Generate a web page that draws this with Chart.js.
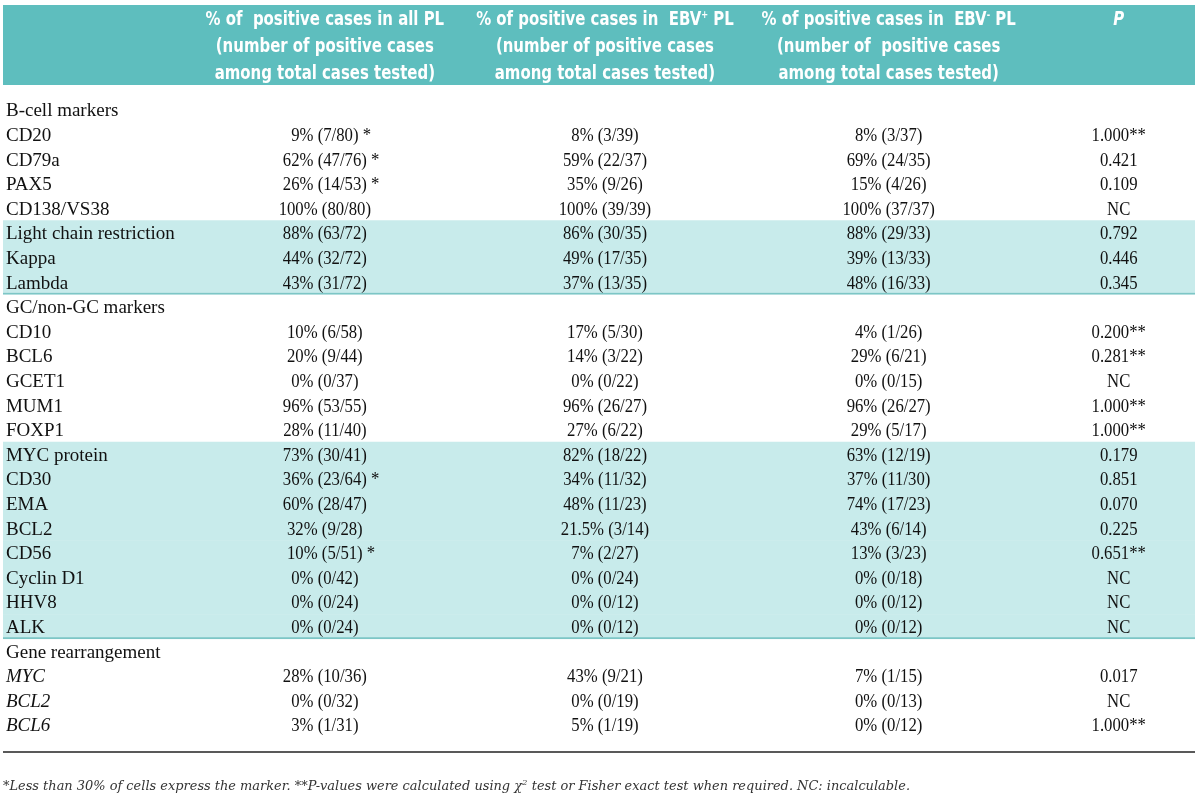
<!DOCTYPE html>
<html>
<head>
<meta charset="utf-8">
<script src="https://cdn.jsdelivr.net/npm/chart.js@4.4.1/dist/chart.umd.min.js"></script>
<style>
  html, body { margin: 0; padding: 0; background: #fff; }
  #wrap { width: 1200px; height: 799px; position: relative; }
</style>
</head>
<body>
<div id="wrap"><canvas id="table-chart"></canvas></div>
<script>
// rows of the table, top to bottom
const rowLabels = ['B-cell markers', 'CD20', 'CD79a', 'PAX5', 'CD138/VS38',
    'Light chain restriction', 'Kappa', 'Lambda',
    'GC/non-GC markers', 'CD10', 'BCL6', 'GCET1', 'MUM1', 'FOXP1',
    'MYC protein', 'CD30', 'EMA', 'BCL2', 'CD56', 'Cyclin D1', 'HHV8', 'ALK',
    'Gene rearrangement', 'MYC', 'BCL2', 'BCL6'];
const sectionRows = [0, 8, 22];
const italicRows = [23, 24, 25];
const shadedGroups = [[5, 7], [14, 21]];

const allPL = ['', '9% (7/80)', '62% (47/76)', '26% (14/53)', '100% (80/80)',
    '88% (63/72)', '44% (32/72)', '43% (31/72)',
    '', '10% (6/58)', '20% (9/44)', '0% (0/37)', '96% (53/55)', '28% (11/40)',
    '73% (30/41)', '36% (23/64)', '60% (28/47)', '32% (9/28)', '10% (5/51)', '0% (0/42)', '0% (0/24)', '0% (0/24)',
    '', '28% (10/36)', '0% (0/32)', '3% (1/31)'];
const lowExpression = [1, 2, 3, 15, 18]; // rows flagged with *
const ebvPos = ['', '8% (3/39)', '59% (22/37)', '35% (9/26)', '100% (39/39)',
    '86% (30/35)', '49% (17/35)', '37% (13/35)',
    '', '17% (5/30)', '14% (3/22)', '0% (0/22)', '96% (26/27)', '27% (6/22)',
    '82% (18/22)', '34% (11/32)', '48% (11/23)', '21.5% (3/14)', '7% (2/27)', '0% (0/24)', '0% (0/12)', '0% (0/12)',
    '', '43% (9/21)', '0% (0/19)', '5% (1/19)'];
const ebvNeg = ['', '8% (3/37)', '69% (24/35)', '15% (4/26)', '100% (37/37)',
    '88% (29/33)', '39% (13/33)', '48% (16/33)',
    '', '4% (1/26)', '29% (6/21)', '0% (0/15)', '96% (26/27)', '29% (5/17)',
    '63% (12/19)', '37% (11/30)', '74% (17/23)', '43% (6/14)', '13% (3/23)', '0% (0/18)', '0% (0/12)', '0% (0/12)',
    '', '7% (1/15)', '0% (0/13)', '0% (0/12)'];
const pValues = ['', '1.000**', '0.421', '0.109', 'NC',
    '0.792', '0.446', '0.345',
    '', '0.200**', '0.281**', 'NC', '1.000**', '1.000**',
    '0.179', '0.851', '0.070', '0.225', '0.651**', 'NC', 'NC', 'NC',
    '', '0.017', 'NC', '1.000**'];

// header text, ^x marks a superscript character
const headerAll = ['% of  positive cases in all PL', '(number of positive cases', 'among total cases tested)'];
const headerPos = ['% of positive cases in  EBV^+ PL', '(number of positive cases', 'among total cases tested)'];
const headerNeg = ['% of positive cases in  EBV^- PL', '(number of  positive cases', 'among total cases tested)'];
const headerP = ['P'];
const footnote = '*Less than 30% of cells express the marker. **P-values were calculated using \u03c7^2 test or Fisher exact test when required. NC: incalculable.';

// layout (x in scale units 0..100 across the table width)
const colX = { label: 0.25, all: 27.0, pos: 50.5, neg: 74.3, p: 93.6 };
const headerTop = 5, headerBottom = 85;
const headerLineY = [24.5, 52, 79];
const ruleY = 752, footY = 790;

const bandData = rowLabels.map((_, i) =>
    shadedGroups.some(g => i >= g[0] && i <= g[1]) ? [0, 100] : null);
const groupEnds = shadedGroups.map(g => g[1]);

function parseSup(text) {
    const parts = [];
    let buf = '';
    for (let i = 0; i < text.length; i++) {
        if (text[i] === '^') {
            if (buf) parts.push({ t: buf, sup: false });
            parts.push({ t: text[i + 1], sup: true });
            buf = '';
            i++;
        } else {
            buf += text[i];
        }
    }
    if (buf) parts.push({ t: buf, sup: false });
    return parts;
}

function drawRich(ctx, text, x, y, align, font, supFont, sx, supRise) {
    const parts = parseSup(text);
    let total = 0;
    parts.forEach(p => {
        ctx.font = p.sup ? supFont : font;
        p.w = ctx.measureText(p.t).width;
        total += p.w;
    });
    let cx = align === 'center' ? x - total * sx / 2 : x;
    ctx.textAlign = 'left';
    parts.forEach(p => {
        ctx.font = p.sup ? supFont : font;
        ctx.save();
        ctx.translate(cx, p.sup ? y - supRise : y);
        ctx.scale(sx, 1);
        ctx.fillText(p.t, 0, 0);
        ctx.restore();
        cx += p.w * sx;
    });
    return total * sx;
}

const bodyFont = '19px "Liberation Serif", "Times New Roman", serif';
const numScale = 0.88;
const headScale = 0.83;

const tablePlugin = {
    id: 'tablePlugin',
    beforeDatasetsDraw(chart) {
        const ctx = chart.ctx;
        const area = chart.chartArea;
        ctx.save();
        ctx.fillStyle = '#5ebebe';
        ctx.fillRect(area.left, headerTop, area.right - area.left, headerBottom - headerTop);
        ctx.restore();
    },
    afterDatasetsDraw(chart) {
        const ctx = chart.ctx;
        const xs = chart.scales.x, ys = chart.scales.y;
        const area = chart.chartArea;
        ctx.save();
        ctx.textBaseline = 'alphabetic';

        // header
        ctx.fillStyle = '#ffffff';
        const hFont = 'bold 20px "DejaVu Sans Condensed", "Liberation Sans Narrow", sans-serif';
        const hSup = 'bold 11px "DejaVu Sans Condensed", "Liberation Sans Narrow", sans-serif';
        [[headerAll, colX.all], [headerPos, colX.pos], [headerNeg, colX.neg]].forEach(([lines, cx]) => {
            lines.forEach((line, k) => {
                drawRich(ctx, line, xs.getPixelForValue(cx), headerLineY[k], 'center', hFont, hSup, headScale, 7);
            });
        });
        drawRich(ctx, headerP[0], xs.getPixelForValue(colX.p), headerLineY[0], 'center',
            'italic ' + hFont, hSup, headScale, 7);

        // body rows
        ctx.fillStyle = '#111111';
        rowLabels.forEach((label, i) => {
            const y = ys.getPixelForValue(i) + 6.3;
            const lf = italicRows.includes(i) ? 'italic ' + bodyFont : bodyFont;
            drawRich(ctx, label, xs.getPixelForValue(colX.label), y, 'left', lf, lf, 1, 0);
            if (sectionRows.includes(i)) return;
            const w = drawRich(ctx, allPL[i], xs.getPixelForValue(colX.all), y, 'center', bodyFont, bodyFont, numScale, 0);
            if (lowExpression.includes(i)) {
                drawRich(ctx, ' *', xs.getPixelForValue(colX.all) + w / 2, y, 'left', bodyFont, bodyFont, numScale, 0);
            }
            drawRich(ctx, ebvPos[i], xs.getPixelForValue(colX.pos), y, 'center', bodyFont, bodyFont, numScale, 0);
            drawRich(ctx, ebvNeg[i], xs.getPixelForValue(colX.neg), y, 'center', bodyFont, bodyFont, numScale, 0);
            drawRich(ctx, pValues[i], xs.getPixelForValue(colX.p), y, 'center', bodyFont, bodyFont, numScale, 0);
        });

        // closing rule
        ctx.strokeStyle = '#222222';
        ctx.lineWidth = 1.5;
        ctx.beginPath();
        ctx.moveTo(area.left, ruleY);
        ctx.lineTo(area.right, ruleY);
        ctx.stroke();

        // footnote, squeezed to its printed width
        ctx.fillStyle = '#333333';
        const fFont = 'italic 12px "DejaVu Serif", serif';
        const fSup = 'italic 8px "DejaVu Serif", serif';
        let fw = 0;
        parseSup(footnote).forEach(p => { ctx.font = p.sup ? fSup : fFont; fw += ctx.measureText(p.t).width; });
        drawRich(ctx, footnote, area.left, footY, 'left', fFont, fSup, 907 / fw, 5);
        ctx.restore();
    }
};

new Chart(document.getElementById('table-chart'), {
    type: 'bar',
    data: {
        labels: rowLabels,
        datasets: [{
            data: bandData,
            backgroundColor: '#c8ebeb',
            borderColor: '#7dc6c6',
            borderSkipped: false,
            borderWidth: ctx => groupEnds.includes(ctx.dataIndex) ? { top: 0, right: 0, bottom: 2, left: 0 } : 0,
            barPercentage: 1,
            categoryPercentage: 1
        }]
    },
    options: {
        indexAxis: 'y',
        responsive: true,
        maintainAspectRatio: false,
        animation: false,
        events: [],
        layout: { padding: { top: 97.7, bottom: 61.7, left: 3, right: 5 } },
        plugins: { legend: { display: false }, tooltip: { enabled: false } },
        scales: {
            x: { type: 'linear', min: 0, max: 100, display: false },
            y: { type: 'category', display: false, offset: true }
        }
    },
    plugins: [tablePlugin]
});
</script>
</body>
</html>
